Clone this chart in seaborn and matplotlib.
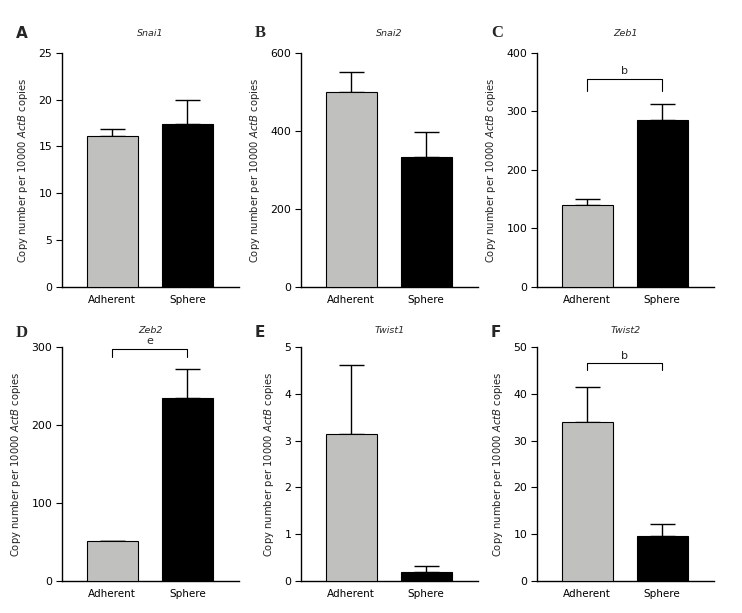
import matplotlib
matplotlib.use('Agg')
import matplotlib.pyplot as plt
import seaborn as sns
import pandas as pd

sns.set_theme(style="ticks")
plt.rcParams['font.family'] = ['DejaVu Sans']
plt.rcParams['mathtext.fontset'] = 'dejavusans'

# data
groups = ['Adherent', 'Sphere']
genes = ['Snai1', 'Snai2', 'Zeb1', 'Zeb2', 'Twist1', 'Twist2']
panel_letters = ['A', 'B', 'C', 'D', 'E', 'F']
means = {
    'Snai1': [16.1, 17.4],
    'Snai2': [500, 333],
    'Zeb1': [140, 285],
    'Zeb2': [51, 235],
    'Twist1': [3.15, 0.2],
    'Twist2': [34, 9.6],
}
# upper error (SD) above each bar
errors = {
    'Snai1': [0.8, 2.6],
    'Snai2': [50, 65],
    'Zeb1': [10, 28],
    'Zeb2': [1, 37],
    'Twist1': [1.47, 0.12],
    'Twist2': [7.5, 2.7],
}
yticks = {
    'Snai1': [0, 5, 10, 15, 20, 25],
    'Snai2': [0, 200, 400, 600],
    'Zeb1': [0, 100, 200, 300, 400],
    'Zeb2': [0, 100, 200, 300],
    'Twist1': [0, 1, 2, 3, 4, 5],
    'Twist2': [0, 10, 20, 30, 40, 50],
}
# significance brackets: (bracket height, tick bottom, label)
brackets = {
    'Zeb1': (355, 335, 'b'),
    'Zeb2': (298, 287, 'e'),
    'Twist2': (46.5, 45.0, 'b'),
}

colors = {'Adherent': '#c0c1bf', 'Sphere': '#000000'}
serif_letters = {'B', 'C', 'D'}

fig = plt.figure(figsize=(7.42, 6.13), dpi=100)
lefts = [0.0836, 0.4057, 0.7237]
bottoms = [0.532, 0.052]
width, height = 0.238, 0.382
letter_offsets = [0.032, 0.023]
title_pads = [12, 10]

for i, gene in enumerate(genes):
    row, col = divmod(i, 3)
    ax = fig.add_axes([lefts[col], bottoms[row], width, height])
    df = pd.DataFrame({'group': groups, 'value': means[gene]})
    sns.barplot(data=df, x='group', y='value', hue='group', palette=colors,
                edgecolor='black', linewidth=0.8, width=0.68, errorbar=None,
                legend=False, ax=ax, zorder=3)
    ax.errorbar(x=[0, 1], y=means[gene], yerr=[[0, 0], errors[gene]],
                fmt='none', ecolor='black', elinewidth=1.0, capsize=9,
                capthick=1.0, zorder=2)
    ax.set_xlim(-0.672, 1.686)
    ax.set_ylim(0, yticks[gene][-1])
    ax.set_yticks(yticks[gene])
    ax.tick_params(axis='y', direction='out', length=4, width=0.8,
                   labelsize=7.8, pad=3, colors='black')
    ax.tick_params(axis='x', length=0, labelsize=7.5, pad=6, colors='black')
    for s in ['top', 'right']:
        ax.spines[s].set_visible(False)
    for s in ['left', 'bottom']:
        ax.spines[s].set_linewidth(1.0)
        ax.spines[s].set_color('black')
    ax.set_xlabel('')
    ax.set_ylabel(r'Copy number per 10000 $\mathit{ActB}$ copies', fontsize=7.2,
                  labelpad=6, color='#222222')
    ax.set_title(gene, fontsize=6.8, style='italic', pad=title_pads[row])

    if gene in brackets:
        y1, y0, lab = brackets[gene]
        ax.plot([0, 0, 1, 1], [y0, y1, y1, y0], color='black', lw=0.8,
                clip_on=False)
        ax.annotate(lab, xy=(0.5, y1), xytext=(0, 2), textcoords='offset points',
                    ha='center', va='bottom', fontsize=8, annotation_clip=False)

    letter = panel_letters[i]
    fam = 'Liberation Serif' if letter in serif_letters else 'DejaVu Sans'
    fig.text(lefts[col] - 0.062, bottoms[row] + height + letter_offsets[row],
             letter, fontsize=12 if letter in serif_letters else 11,
             fontweight='bold', family=fam, va='center', ha='left')

fig.savefig('out.png', dpi=100)
